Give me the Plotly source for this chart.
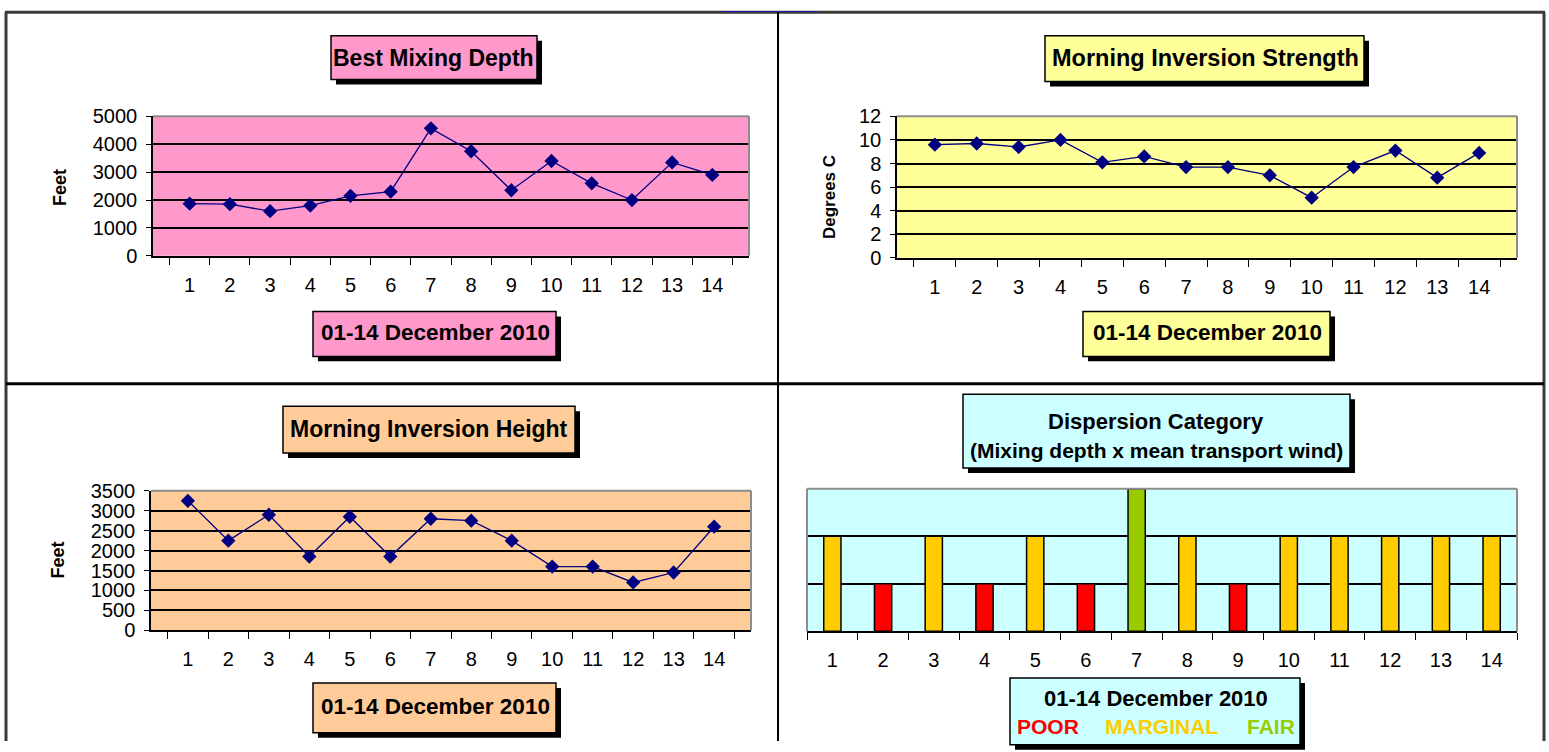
import plotly.graph_objects as go

# ---------------- data ----------------
days = [str(i) for i in range(1, 15)]
mixing_depth = [1870, 1850, 1600, 1800, 2150, 2300, 4570, 3750, 2350, 3400, 2600, 2000, 3350, 2900]
inversion_strength = [9.6, 9.7, 9.4, 10.0, 8.1, 8.6, 7.7, 7.7, 7.0, 5.1, 7.7, 9.1, 6.8, 8.9]
inversion_height = [3250, 2250, 2900, 1850, 2850, 1850, 2800, 2750, 2250, 1600, 1600, 1200, 1450, 2600]
dispersion = ["MARGINAL", "POOR", "MARGINAL", "POOR", "MARGINAL", "POOR", "FAIR",
              "MARGINAL", "POOR", "MARGINAL", "MARGINAL", "MARGINAL", "MARGINAL", "MARGINAL"]
category_names = ["POOR", "MARGINAL", "FAIR"]
category_levels = [1, 2, 3]
category_colors = ["#FF0000", "#FFCC00", "#99CC00"]

mixing_ticks = [0, 1000, 2000, 3000, 4000, 5000]
strength_ticks = [0, 2, 4, 6, 8, 10, 12]
height_ticks = [0, 500, 1000, 1500, 2000, 2500, 3000, 3500]

x_title = "01-14 December 2010"

# ---------------- layout helpers ----------------
W, H = 1549, 752
FONT = "Liberation Sans, Arial, sans-serif"
# vertical calibration of the photographed page (measured from earlier renders)
Y_OFF, Y_SCALE = 8.2, 0.9747


def px(x):
    return x / W


def py(y):
    y_fig = (y - Y_OFF) / Y_SCALE
    return 1 - y_fig / H


fig = go.Figure()
shapes = []
annotations = []

level_of = dict(zip(category_names, category_levels))
color_of = dict(zip(category_names, category_colors))

# ---------------- traces ----------------
line_style = dict(color="#000080", width=1.3)
marker_style = dict(symbol="diamond", size=11, color="#000080")

fig.add_trace(go.Scatter(x=days, y=mixing_depth, mode="lines+markers", line=line_style,
                         marker=marker_style, xaxis="x", yaxis="y", showlegend=False))
fig.add_trace(go.Scatter(x=days, y=inversion_strength, mode="lines+markers", line=line_style,
                         marker=marker_style, xaxis="x2", yaxis="y2", showlegend=False))
fig.add_trace(go.Scatter(x=days, y=inversion_height, mode="lines+markers", line=line_style,
                         marker=marker_style, xaxis="x3", yaxis="y3", showlegend=False))
fig.add_trace(go.Bar(x=days, y=[level_of[c] for c in dispersion],
                     marker=dict(color=[color_of[c] for c in dispersion],
                                 line=dict(color="black", width=1.5)),
                     width=0.34, xaxis="x4", yaxis="y4", showlegend=False))

# ---------------- axes ----------------
panels = [
    # (suffix, x0, x1, y_top, y_bottom, bg, yticks, yrange, show_y)
    ("", 153, 749, 114, 254, "#FF99CC", mixing_ticks, [0, 5000], True),
    ("2", 897, 1517, 114, 256, "#FFFF99", strength_ticks, [0, 12], True),
    ("3", 151, 751, 490, 630, "#FFCC99", height_ticks, [0, 3500], True),
    ("4", 807, 1517, 488, 631, "#CCFFFF", [1, 2], [0, 3], False),
]

tick_font = dict(family=FONT, size=20, color="black")

for suf, x0, x1, yt, yb, bg, yticks, yrange, show_y in panels:
    xa = "xaxis" + suf
    ya = "yaxis" + suf
    fig.layout[xa] = dict(
        domain=[px(x0), px(x1)], anchor="y" + suf, type="category",
        tickson="boundaries", ticks="outside", ticklen=7, tickwidth=1.2, tickcolor="black",
        showline=True, linecolor="black", linewidth=1.5, showgrid=False,
        tickfont=tick_font, ticklabelstandoff=10, fixedrange=True,
    )
    fig.layout[ya] = dict(
        domain=[py(yb), py(yt)], anchor="x" + suf, range=yrange,
        tickmode="array", tickvals=yticks,
        showgrid=True, gridcolor="black", gridwidth=1.7, zeroline=False,
        showline=show_y, linecolor="black", linewidth=1.5,
        ticks="outside" if show_y else "", ticklen=5, tickcolor="black",
        showticklabels=show_y, tickfont=tick_font, ticklabelstandoff=5, fixedrange=True,
    )
    xr = "x" + suf + " domain" if suf else "x domain"
    yr = "y" + suf + " domain" if suf else "y domain"
    # plot-area background
    shapes.append(dict(type="rect", xref=xr, yref=yr, x0=0, x1=1, y0=0, y1=1,
                       fillcolor=bg, line=dict(width=0), layer="below"))
    # gray plot-area border (top, right, and left when no axis line)
    shapes.append(dict(type="line", xref=xr, yref=yr, x0=0, x1=1, y0=1, y1=1,
                       line=dict(color="#8C8C8C", width=2), layer="above"))
    shapes.append(dict(type="line", xref=xr, yref=yr, x0=1, x1=1, y0=0, y1=1,
                       line=dict(color="#8C8C8C", width=2), layer="above"))
    if not show_y:
        shapes.append(dict(type="line", xref=xr, yref=yr, x0=0, x1=0, y0=0, y1=1,
                           line=dict(color="#8C8C8C", width=2), layer="above"))


# ---------------- boxed titles ----------------
def add_box(x0, y0, x1, y1, fill):
    shapes.append(dict(type="rect", xref="paper", yref="paper",
                       x0=px(x0 + 5), x1=px(x1 + 5), y0=py(y1 + 5), y1=py(y0 + 5),
                       fillcolor="black", line=dict(width=0), layer="above"))
    shapes.append(dict(type="rect", xref="paper", yref="paper",
                       x0=px(x0), x1=px(x1), y0=py(y1), y1=py(y0),
                       fillcolor=fill, line=dict(color="black", width=1.5), layer="above"))


def add_text(x, y, text, size, color="black", bold=True, angle=0):
    annotations.append(dict(xref="paper", yref="paper", x=px(x), y=py(y), text=text,
                            showarrow=False, xanchor="center", yanchor="middle",
                            textangle=angle,
                            font=dict(family=FONT, size=size, color=color,
                                      weight="bold" if bold else "normal")))


# Panel 1
add_box(331, 33, 537, 77, "#FF99CC")
add_text(434, 55, "Best Mixing Depth", 23)
add_box(313, 310, 556, 355, "#FF99CC")
add_text(435, 331, x_title, 22.5)
add_text(60, 185, "Feet", 18, angle=-90)

# Panel 2
add_box(1045, 33, 1364, 79, "#FFFF99")
add_text(1205, 55, "Morning Inversion Strength", 23.5)
add_box(1083, 310, 1330, 355, "#FFFF99")
add_text(1207, 331, x_title, 22.5)
add_text(829, 195, "Degrees C", 17, angle=-90)

# Panel 3
add_box(283, 405, 575, 452, "#FFCC99")
add_text(429, 428, "Morning Inversion Height", 23)
add_box(313, 683, 556, 733, "#FFCC99")
add_text(435, 707, x_title, 22.5)
add_text(58, 560, "Feet", 18, angle=-90)

# Panel 4
add_box(963, 393, 1350, 467, "#CCFFFF")
add_text(1156, 420, "Dispersion Category", 22)
add_text(1156, 449, "(Mixing depth x mean transport wind)", 21)
add_box(1010, 678, 1300, 745, "#CCFFFF")
add_text(1156, 698, x_title, 22)
legend_x = [1048, 1161, 1271]
for name, color, lx in zip(category_names, category_colors, legend_x):
    add_text(lx, 727, name, 21, color=color)

# ---------------- page frame ----------------
frame = dict(color="#3A3A3A", width=3)
top_y = py(9.5)
shapes.append(dict(type="line", xref="paper", yref="paper", x0=px(5), x1=px(1545),
                   y0=top_y, y1=top_y, line=frame))
shapes.append(dict(type="line", xref="paper", yref="paper", x0=px(6), x1=px(6),
                   y0=top_y, y1=0, line=frame))
shapes.append(dict(type="line", xref="paper", yref="paper", x0=px(1544), x1=px(1544),
                   y0=top_y, y1=0, line=frame))
shapes.append(dict(type="line", xref="paper", yref="paper", x0=px(778), x1=px(778),
                   y0=top_y, y1=0, line=dict(color="black", width=2)))
shapes.append(dict(type="line", xref="paper", yref="paper", x0=px(6), x1=px(1544),
                   y0=py(382.5), y1=py(382.5), line=dict(color="black", width=3)))
# blue link underline peeking at the top
shapes.append(dict(type="rect", xref="paper", yref="paper", x0=px(721), x1=px(817),
                   y0=py(8.8), y1=1, fillcolor="#0000FF", line=dict(width=0)))

fig.update_layout(
    width=W, height=H, margin=dict(l=0, r=0, t=0, b=0),
    paper_bgcolor="white", plot_bgcolor="rgba(0,0,0,0)",
    shapes=shapes, annotations=annotations, showlegend=False,
    font=dict(family=FONT, color="black"),
)

fig.write_html(
    "out.html",
    config={"displayModeBar": False},
    post_script=(
        "document.documentElement.style.margin='0';"
        "document.documentElement.style.overflow='hidden';"
        "document.body.style.margin='0';"
        "document.body.style.overflow='hidden';"
        "var gd=document.getElementById('{plot_id}');"
        "gd.style.position='fixed';gd.style.top='0px';gd.style.left='0px';"
    ),
)
